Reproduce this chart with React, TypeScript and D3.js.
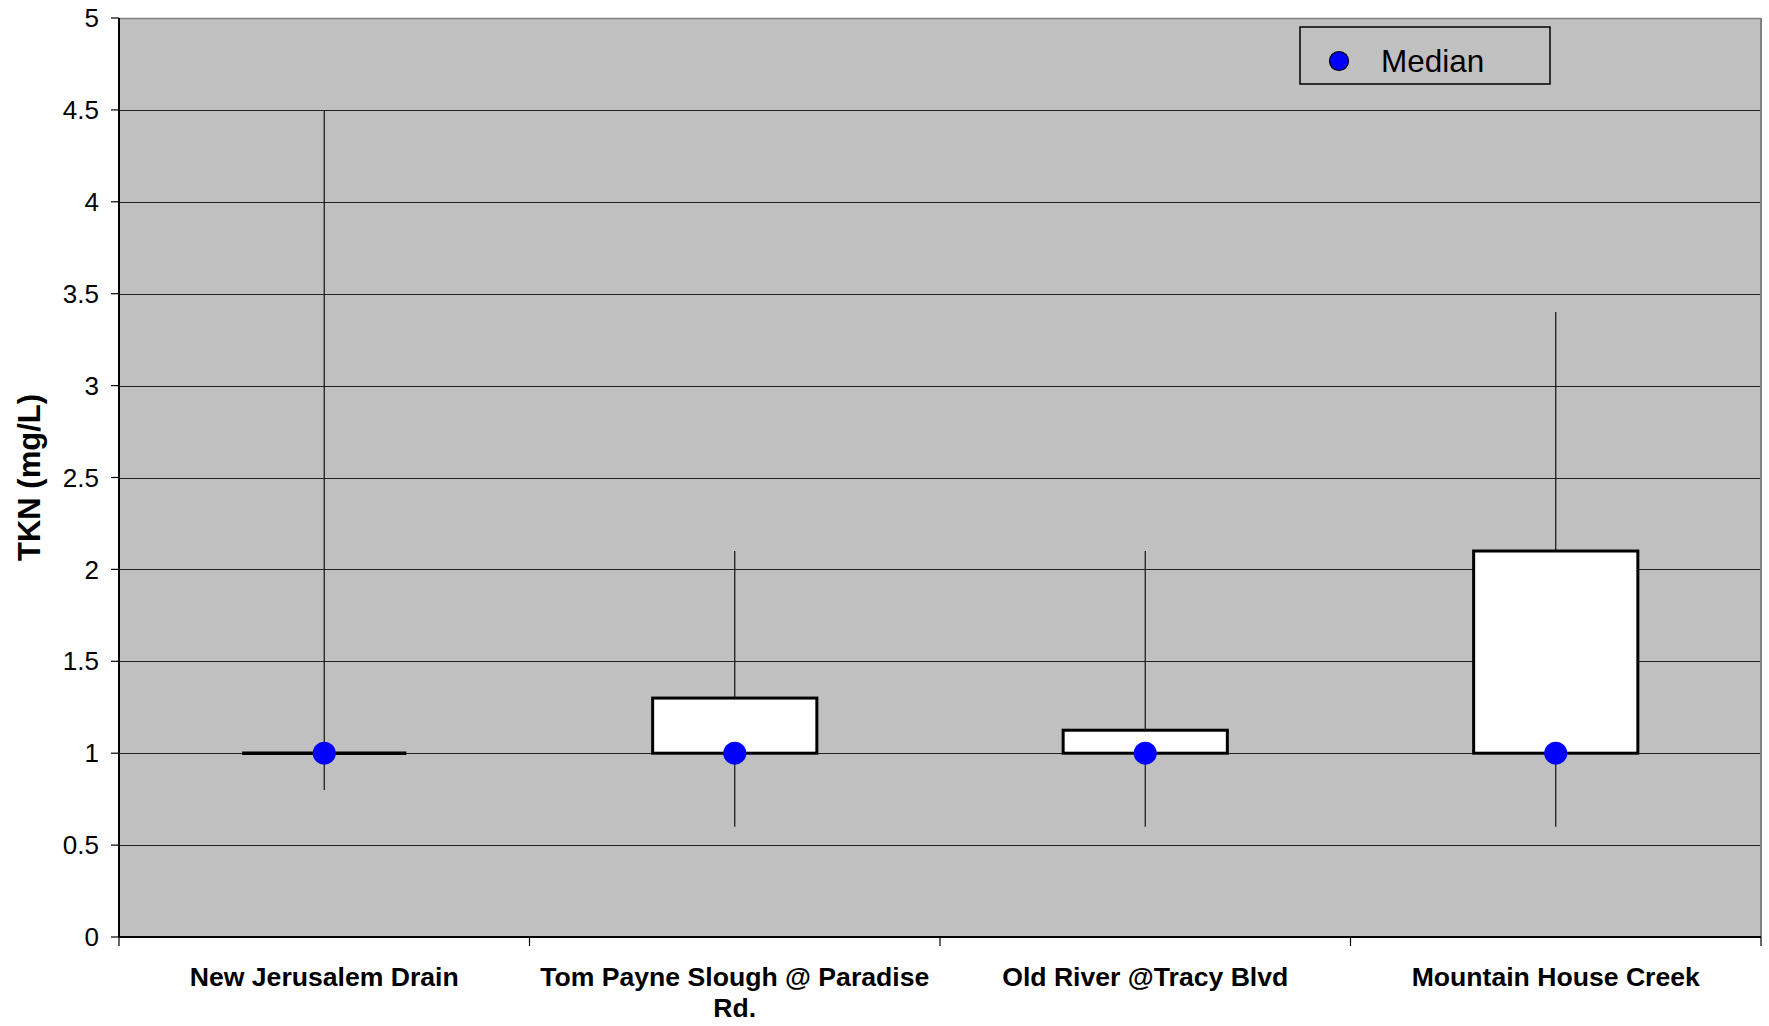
import React from "react";
import * as d3 from "d3";

const categories = ["New Jerusalem Drain", "Tom Payne Slough @ Paradise Rd.", "Old River @Tracy Blvd", "Mountain House Creek"];
const labelLines = [["New Jerusalem Drain"], ["Tom Payne Slough @ Paradise", "Rd."], ["Old River @Tracy Blvd"], ["Mountain House Creek"]];
const minValues = [0.8, 0.6, 0.6, 0.6];
const q1Values = [1, 1, 1, 1];
const medianValues = [1, 1, 1, 1];
const q3Values = [1, 1.3, 1.125, 2.1];
const maxValues = [4.5, 2.1, 2.1, 3.4];
const yTicks = [0, 0.5, 1, 1.5, 2, 2.5, 3, 3.5, 4, 4.5, 5];
const yTitle = "TKN (mg/L)";
const legendLabel = "Median";

const W = 1769;
const H = 1026;
const L = 119, R = 1761, T = 18, B = 937;

export default function App() {
  const x = d3.scaleBand<string>().domain(categories).range([L, R]).paddingInner(0).paddingOuter(0);
  const y = d3.scaleLinear().domain([0, 5]).range([B, T]);
  const bw = x.bandwidth();
  const boxW = bw * 0.4;
  const font = "'Liberation Sans', Arial, sans-serif";

  return (
    <svg width={W} height={H} style={{ position: "absolute", left: 0, top: 0, background: "#fff" }} fontFamily={font}>
      <rect x={L} y={T} width={R - L} height={B - T} fill="#C0C0C0" />
      {/* gridlines */}
      {yTicks.filter((t) => t > 0 && t < 5).map((t) => (
        <line key={"g" + t} x1={L} x2={R} y1={Math.round(y(t)) + 0.5} y2={Math.round(y(t)) + 0.5} stroke="#222" strokeWidth={1} />
      ))}
      {/* top and right border */}
      <line x1={L} x2={R} y1={T + 0.5} y2={T + 0.5} stroke="#808080" strokeWidth={1.5} />
      <line x1={R} x2={R} y1={T} y2={B} stroke="#808080" strokeWidth={2} />
      {/* whiskers */}
      {categories.map((c, i) => {
        const cx = x(c)! + bw / 2;
        return <line key={"w" + i} x1={cx} x2={cx} y1={y(minValues[i])} y2={y(maxValues[i])} stroke="#111" strokeWidth={1.2} />;
      })}
      {/* boxes */}
      {categories.map((c, i) => {
        const cx = x(c)! + bw / 2;
        const hgt = y(q1Values[i]) - y(q3Values[i]);
        if (hgt <= 0.5) {
          return <line key={"b" + i} x1={cx - boxW / 2} x2={cx + boxW / 2} y1={y(q1Values[i])} y2={y(q1Values[i])} stroke="#000" strokeWidth={3.5} />;
        }
        return (
          <rect key={"b" + i} x={cx - boxW / 2} y={y(q3Values[i])} width={boxW} height={hgt}
            fill="#fff" stroke="#000" strokeWidth={3} />
        );
      })}
      {/* medians */}
      {categories.map((c, i) => {
        const cx = x(c)! + bw / 2;
        return <circle key={"m" + i} cx={cx} cy={y(medianValues[i])} r={11.5} fill="#0000FF" />;
      })}
      {/* axes */}
      <line x1={L} x2={L} y1={T} y2={B} stroke="#000" strokeWidth={2} />
      <line x1={L} x2={R} y1={B} y2={B} stroke="#000" strokeWidth={2} />
      {yTicks.map((t) => (
        <g key={"t" + t}>
          <line x1={L - 8} x2={L} y1={y(t)} y2={y(t)} stroke="#000" strokeWidth={1.2} />
          <text x={99} y={y(t)} dy="0.35em" textAnchor="end" fontSize={26} fill="#000">{String(t)}</text>
        </g>
      ))}
      {categories.map((c, i) => (
        <line key={"xt" + i} x1={x(c)! + bw} x2={x(c)! + bw} y1={B} y2={B + 9} stroke="#000" strokeWidth={1.2} />
      ))}
      <line x1={L} x2={L} y1={B} y2={B + 9} stroke="#000" strokeWidth={1.2} />
      {categories.map((c, i) => (
        <text key={"xl" + i} x={x(c)! + bw / 2} y={986} textAnchor="middle" fontSize={26.6} fontWeight="bold" fill="#000">
          {labelLines[i].map((ln, j) => (
            <tspan key={j} x={x(c)! + bw / 2} dy={j === 0 ? 0 : 31}>{ln}</tspan>
          ))}
        </text>
      ))}
      <text transform={`translate(40, ${(T + B) / 2}) rotate(-90)`} textAnchor="middle" fontSize={31} fontWeight="bold" fill="#000">{yTitle}</text>
      {/* legend */}
      <rect x={1300} y={27} width={250} height={57} fill="#C0C0C0" stroke="#000" strokeWidth={1.5} />
      <circle cx={1339} cy={61} r={9.5} fill="#0000FF" stroke="#000" strokeWidth={1.2} />
      <text x={1381} y={61} dy="0.35em" fontSize={31.5} fill="#000">{legendLabel}</text>
    </svg>
  );
}
